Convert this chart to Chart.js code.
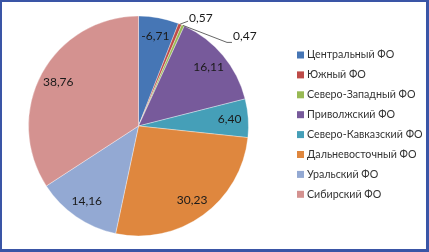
<!DOCTYPE html>
<html>
<head>
<meta charset="utf-8">
<script src="https://cdn.jsdelivr.net/npm/chart.js@4/dist/chart.umd.min.js"></script>
<style>
  html, body { margin: 0; padding: 0; background: #fff; }
  #wrap {
    position: relative; width: 429px; height: 252px; box-sizing: border-box;
    border: 2px solid #3a55a6; border-right-width: 3px; border-bottom-width: 3px;
  }
  canvas { position: absolute; left: -2px; top: -2px; }
</style>
</head>
<body>
<div id="wrap"><canvas id="chart" width="429" height="252"></canvas></div>
<script>
// --- data ---
var regions = ['Центральный ФО', 'Южный ФО', 'Северо-Западный ФО', 'Приволжский ФО',
               'Северо-Кавказский ФО', 'Дальневосточный ФО', 'Уральский ФО', 'Сибирский ФО'];
var values  = [-6.71, 0.57, 0.47, 16.11, 6.40, 30.23, 14.16, 38.76];
var colors  = ['#4676b5', '#be4b48', '#98b954', '#775a9b', '#459fb8', '#df873e', '#93a9d3', '#d49290'];

function fmt(v) { return v.toFixed(2).replace('.', ','); }

// labels drawn on the slices, small ones pulled out with leader lines
var sliceLabels = {
  id: 'sliceLabels',
  afterDatasetsDraw: function (chart) {
    var ctx = chart.ctx;
    var arcs = chart.getDatasetMeta(0).data;
    ctx.save();
    ctx.font = '12px Lato';
    ctx.fillStyle = '#1a1a1a';
    ctx.textAlign = 'center';
    ctx.textBaseline = 'middle';
    arcs.forEach(function (arc, i) {
      var mid = (arc.startAngle + arc.endAngle) / 2;
      var r = arc.outerRadius;
      if (i === 1 || i === 2) {
        var ex = arc.x + Math.cos(mid) * r, ey = arc.y + Math.sin(mid) * r;
        ctx.strokeStyle = '#404040';
        ctx.lineWidth = 0.8;
        ctx.beginPath();
        ctx.textAlign = 'left';
        if (i === 1) {
          ctx.moveTo(ex, ey); ctx.lineTo(ex + 8, ey - 3);
          ctx.stroke();
          ctx.fillText(fmt(values[i]), ex + 9, ey - 6);
        } else {
          ctx.moveTo(ex, ey); ctx.lineTo(ex + 44, ey + 17); ctx.lineTo(ex + 49, ey + 17);
          ctx.stroke();
          ctx.fillText(fmt(values[i]), ex + 50, ey + 11);
        }
        ctx.textAlign = 'center';
        return;
      }
      var k = 0.83;
      ctx.fillText(fmt(values[i]), arc.x + Math.cos(mid) * r * k, arc.y + Math.sin(mid) * r * k);
    });
    ctx.restore();
  }
};

// legend on the right
var sideLegend = {
  id: 'sideLegend',
  afterDraw: function (chart) {
    var ctx = chart.ctx;
    ctx.save();
    ctx.font = '10.7px Lato';
    ctx.textBaseline = 'middle';
    ctx.textAlign = 'left';
    regions.forEach(function (name, i) {
      var y = 55 + i * 19.9;
      ctx.fillStyle = colors[i];
      ctx.fillRect(297, y - 3.5, 7, 7);
      ctx.fillStyle = '#333';
      ctx.fillText(name, 307, y);
    });
    ctx.restore();
  }
};

new Chart(document.getElementById('chart'), {
  type: 'pie',
  data: {
    labels: regions,
    datasets: [{
      data: values.map(function (v) { return Math.abs(v); }),
      backgroundColor: colors,
      borderColor: 'rgba(255,255,255,0.35)',
      borderWidth: 1
    }]
  },
  options: {
    responsive: false,
    animation: false,
    layout: { padding: { left: 28, right: 180, top: 15, bottom: 15 } },
    plugins: { legend: { display: false }, tooltip: { enabled: false } }
  },
  plugins: [sliceLabels, sideLegend]
});
</script>
</body>
</html>
